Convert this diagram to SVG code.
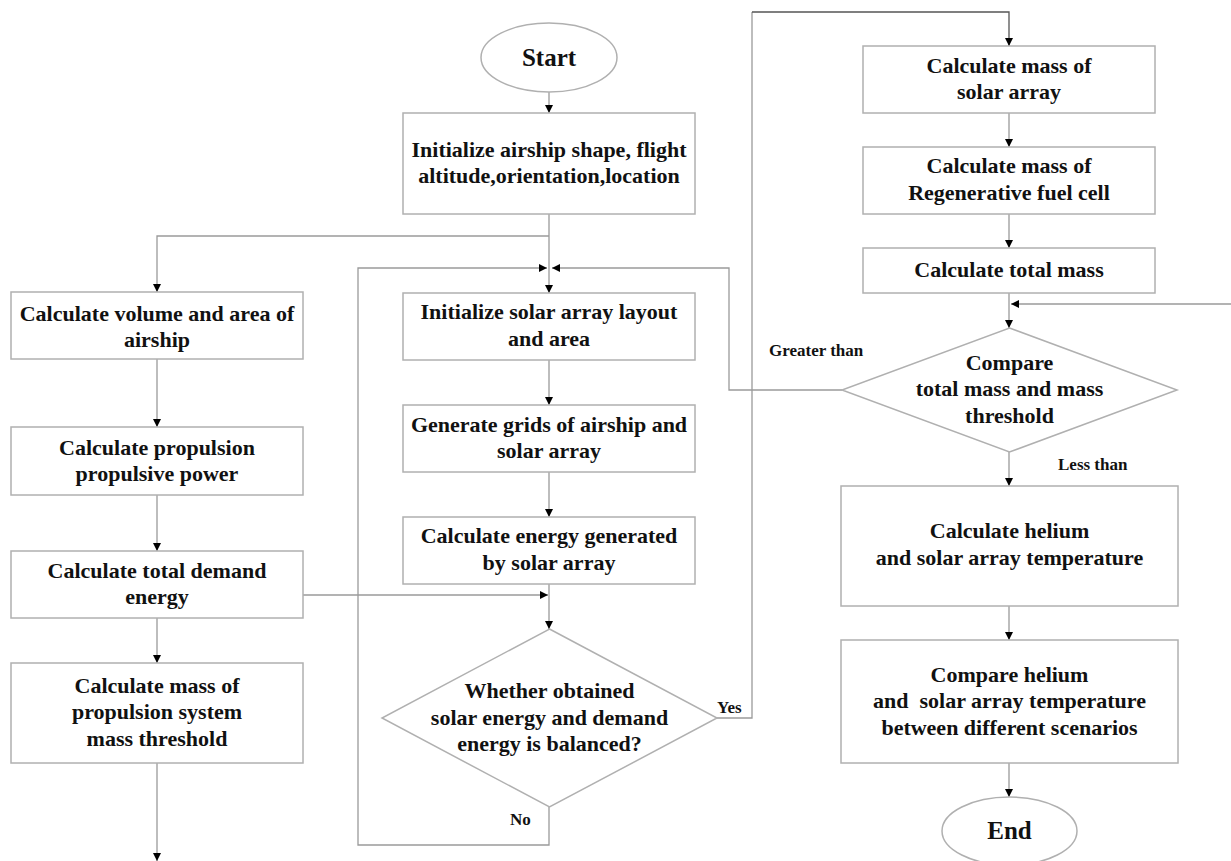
<svg xmlns="http://www.w3.org/2000/svg" width="1231" height="861" viewBox="0 0 1231 861">
<style>
.box{fill:#fff;stroke:#b0b0b0;stroke-width:1.5}
.t{font-family:"Liberation Serif","Times New Roman",serif;font-weight:bold;font-size:22px;fill:#111;text-anchor:middle}
.lbl{font-family:"Liberation Serif","Times New Roman",serif;font-weight:bold;font-size:17px;fill:#111}
.big{font-size:25px}
.c{fill:none;stroke:#9a9a9a;stroke-width:1.3}
.dk{stroke:#555}
</style>
<defs>
<marker id="ah" markerUnits="userSpaceOnUse" markerWidth="9" markerHeight="9" refX="8" refY="4" orient="auto">
<path d="M0,0 L8,4 L0,8 z" fill="#000"/>
</marker>
</defs>
<rect width="1231" height="861" fill="#fff"/>
<g id="connectors">
<path class="c" d="M549,92 V113" marker-end="url(#ah)"/>
<path class="c" d="M549,214 V293" marker-end="url(#ah)"/>
<path class="c" d="M549,236 H157 V292" marker-end="url(#ah)"/>
<path class="c" d="M157,359 V427" marker-end="url(#ah)"/>
<path class="c" d="M157,495 V551" marker-end="url(#ah)"/>
<path class="c" d="M157,618 V663" marker-end="url(#ah)"/>
<path class="c" d="M157,763 V861" marker-end="url(#ah)"/>
<path class="c" d="M303,595 H548" marker-end="url(#ah)"/>
<path class="c" d="M549,360 V405" marker-end="url(#ah)"/>
<path class="c" d="M549,472 V517" marker-end="url(#ah)"/>
<path class="c" d="M549,584 V629" marker-end="url(#ah)"/>
<path class="c" d="M549,807 V845 H358 V268 H547" marker-end="url(#ah)"/>
<path class="c" d="M717,718 H752 V12"/>
<path class="c dk" d="M752,12 H1009 V46" marker-end="url(#ah)"/>
<path class="c" d="M842,390 H729 V268 H552" marker-end="url(#ah)"/>
<path class="c" d="M1009,113 V147" marker-end="url(#ah)"/>
<path class="c" d="M1009,214 V248" marker-end="url(#ah)"/>
<path class="c" d="M1009,293 V328" marker-end="url(#ah)"/>
<path class="c" d="M1231,304 H1011" marker-end="url(#ah)"/>
<path class="c" d="M1009,452 V486" marker-end="url(#ah)"/>
<path class="c" d="M1009,606 V640" marker-end="url(#ah)"/>
<path class="c" d="M1009,763 V797" marker-end="url(#ah)"/>
</g>
<g id="start"><ellipse class="box" cx="549" cy="57.5" rx="68" ry="34.5"/><text class="t big" x="549" y="66">Start</text></g>
<g id="init"><rect class="box" x="403" y="113" width="292" height="101"/><text class="t" x="549" y="157">Initialize airship shape, flight</text><text class="t" x="549" y="183">altitude,orientation,location</text></g>
<g id="volume"><rect class="box" x="11" y="292" width="292" height="67"/><text class="t" x="157" y="321">Calculate volume and area of</text><text class="t" x="157" y="347">airship</text></g>
<g id="propulsion"><rect class="box" x="11" y="427" width="292" height="68"/><text class="t" x="157" y="455">Calculate propulsion</text><text class="t" x="157" y="481">propulsive power</text></g>
<g id="demand"><rect class="box" x="11" y="551" width="292" height="67"/><text class="t" x="157" y="578">Calculate total demand</text><text class="t" x="157" y="604">energy</text></g>
<g id="propmass"><rect class="box" x="11" y="663" width="292" height="100"/><text class="t" x="157" y="693">Calculate mass of</text><text class="t" x="157" y="719">propulsion system</text><text class="t" x="157" y="746">mass threshold</text></g>
<g id="layout"><rect class="box" x="403" y="293" width="292" height="67"/><text class="t" x="549" y="319">Initialize solar array layout</text><text class="t" x="549" y="346">and area</text></g>
<g id="grids"><rect class="box" x="403" y="405" width="292" height="67"/><text class="t" x="549" y="432">Generate grids of airship and</text><text class="t" x="549" y="458">solar array</text></g>
<g id="energy"><rect class="box" x="403" y="517" width="292" height="67"/><text class="t" x="549" y="543">Calculate energy generated</text><text class="t" x="549" y="570">by solar array</text></g>
<g id="balance"><polygon class="box" points="549.5,629 717,718 549.5,807 382,718"/><text class="t" x="549.5" y="698">Whether obtained</text><text class="t" x="549.5" y="724.5">solar energy and demand</text><text class="t" x="549.5" y="751">energy is balanced?</text></g>
<g id="solarmass"><rect class="box" x="863" y="46" width="292" height="67"/><text class="t" x="1009" y="73">Calculate mass of</text><text class="t" x="1009" y="99">solar array</text></g>
<g id="fuelcell"><rect class="box" x="863" y="147" width="292" height="67"/><text class="t" x="1009" y="173">Calculate mass of</text><text class="t" x="1009" y="200">Regenerative fuel cell</text></g>
<g id="totalmass"><rect class="box" x="863" y="248" width="292" height="45"/><text class="t" x="1009" y="277">Calculate total mass</text></g>
<g id="comparemass"><polygon class="box" points="1009.5,328 1177,390 1009.5,452 842,390"/><text class="t" x="1009.5" y="370">Compare</text><text class="t" x="1009.5" y="396">total mass and mass</text><text class="t" x="1009.5" y="422.5">threshold</text></g>
<g id="temp"><rect class="box" x="841" y="486" width="337" height="120"/><text class="t" x="1009.5" y="538">Calculate helium</text><text class="t" x="1009.5" y="565">and solar array temperature</text></g>
<g id="comparetemp"><rect class="box" x="841" y="640" width="337" height="123"/><text class="t" x="1009.5" y="682">Compare helium</text><text class="t" x="1009.5" y="708" xml:space="preserve">and  solar array temperature</text><text class="t" x="1009.5" y="735">between different scenarios</text></g>
<g id="end"><ellipse class="box" cx="1009.5" cy="831" rx="67.5" ry="34"/><text class="t big" x="1009.5" y="839">End</text></g>
<g id="labels">
<text class="lbl" x="769" y="356">Greater than</text>
<text class="lbl" x="1058" y="470">Less than</text>
<text class="lbl" x="717" y="713">Yes</text>
<text class="lbl" x="510" y="825">No</text>
</g>
</svg>
